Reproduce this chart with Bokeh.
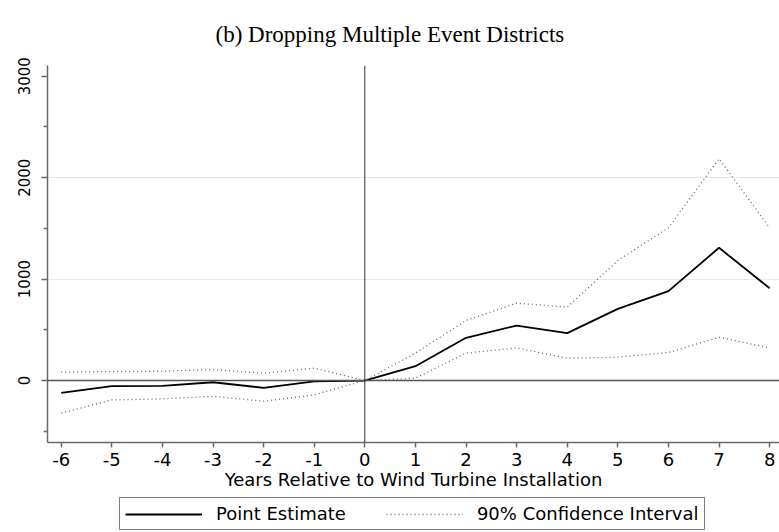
from bokeh.plotting import figure
from bokeh.layouts import column
from bokeh.models import FixedTicker, Legend, LegendItem, Span, Range1d, Title
from bokeh.embed import file_html
from bokeh.resources import INLINE

# ---- data ----
years = [-6, -5, -4, -3, -2, -1, 0, 1, 2, 3, 4, 5, 6, 7, 8]
point_estimate = [-121, -56, -52, -17, -72, -8, 0, 141, 421, 542, 467, 707, 881, 1309, 910]
ci_upper = [82, 89, 92, 108, 72, 122, 0, 270, 592, 763, 723, 1183, 1506, 2186, 1506]
ci_lower = [-322, -191, -181, -155, -204, -141, 0, 23, 270, 322, 220, 230, 276, 427, 322]
y_major_ticks = [0, 1000, 2000, 3000]
y_minor_ticks = [-500, 500, 1500, 2500]
y_grid_ticks = [1000, 2000]
title_text = "(b) Dropping Multiple Event Districts"
x_title = "Years Relative to Wind Turbine Installation"
legend_labels = ["Point Estimate", "90% Confidence Interval"]

SANS = "DejaVu Sans"
PE_STYLE = dict(line_color="black", line_width=1.8)
CI_STYLE = dict(line_color="#666666", line_width=1.3, line_dash="1 3")

fig = figure(width=779, height=496, output_backend="svg", toolbar_location=None,
             x_range=Range1d(-6.271, 8.195), y_range=Range1d(-611, 3106),
             min_border_left=47, min_border_right=0, min_border_top=65,
             min_border_bottom=54)
fig.outline_line_color = None
fig.background_fill_color = "white"
fig.border_fill_color = "white"

# title (serif, centred over the whole graph)
fig.title = Title(text=title_text, align="left", offset=168, standoff=38,
                  text_font="Liberation Serif", text_font_size="23px",
                  text_font_style="normal", text_color="black")

# grid
fig.xgrid.visible = False
fig.ygrid.ticker = FixedTicker(ticks=y_grid_ticks)
fig.ygrid.grid_line_color = "#e2eaee"
fig.ygrid.grid_line_width = 1

# axes
axis_col = "#6a6a6a"
fig.xaxis.ticker = FixedTicker(ticks=years)
fig.xaxis.major_label_overrides = {y: str(y) for y in years}
fig.xaxis.axis_line_color = axis_col
fig.xaxis.axis_line_width = 1.5
fig.xaxis.major_tick_line_color = axis_col
fig.xaxis.major_tick_line_width = 1.5
fig.xaxis.major_tick_out = 5
fig.xaxis.major_tick_in = 0
fig.xaxis.minor_tick_line_color = None
fig.xaxis.major_label_text_font = SANS
fig.xaxis.major_label_text_font_size = "18px"
fig.xaxis.major_label_text_color = "black"
fig.xaxis.major_label_standoff = 5
fig.xaxis.axis_label = x_title
fig.xaxis.axis_label_text_font = SANS
fig.xaxis.axis_label_text_font_size = "18px"
fig.xaxis.axis_label_text_font_style = "normal"
fig.xaxis.axis_label_text_color = "black"
fig.xaxis.axis_label_standoff = 0

fig.yaxis.ticker = FixedTicker(ticks=y_major_ticks, minor_ticks=y_minor_ticks)
fig.yaxis.axis_line_color = axis_col
fig.yaxis.axis_line_width = 1.5
fig.yaxis.major_tick_line_color = axis_col
fig.yaxis.major_tick_line_width = 1.5
fig.yaxis.major_tick_out = 6
fig.yaxis.major_tick_in = 0
fig.yaxis.minor_tick_line_color = axis_col
fig.yaxis.minor_tick_line_width = 1.5
fig.yaxis.minor_tick_out = 4
fig.yaxis.minor_tick_in = 0
fig.yaxis.major_label_orientation = "vertical"
fig.yaxis.major_label_text_font = SANS
fig.yaxis.major_label_text_font_size = "15px"
fig.yaxis.major_label_text_color = "black"
fig.yaxis.major_label_standoff = 11

# reference lines at zero
fig.add_layout(Span(location=0, dimension="width", line_color="#555555", line_width=1.5))
fig.add_layout(Span(location=0, dimension="height", line_color="#333333", line_width=1))

# series
fig.line(years, point_estimate, **PE_STYLE)
fig.line(years, ci_upper, **CI_STYLE)
fig.line(years, ci_lower, **CI_STYLE)

# ---- legend strip below the graph ----
leg_fig = figure(width=779, height=36, output_backend="svg", toolbar_location=None,
                 x_range=Range1d(0, 1), y_range=Range1d(0, 1),
                 x_axis_type=None, y_axis_type=None,
                 min_border_left=0, min_border_right=0, min_border_top=0,
                 min_border_bottom=0)
leg_fig.outline_line_color = None
leg_fig.grid.visible = False
leg_fig.background_fill_color = "white"
leg_fig.border_fill_color = "white"
# single-point keys: nothing is drawn in the strip, they only style the legend samples
k_pe = leg_fig.line(years[:1], point_estimate[:1], **PE_STYLE)
k_ci = leg_fig.line(years[:1], ci_upper[:1], **CI_STYLE)

legend = Legend(items=[LegendItem(label=legend_labels[0], renderers=[k_pe]),
                       LegendItem(label=legend_labels[1], renderers=[k_ci])],
                orientation="horizontal", location=(72, 2))
legend.glyph_width = 77
legend.glyph_height = 20
legend.label_standoff = 14
legend.spacing = 40
legend.padding = 5
legend.margin = 0
legend.border_line_color = "black"
legend.border_line_width = 1
legend.background_fill_color = "white"
legend.background_fill_alpha = 1
legend.label_text_font = SANS
legend.label_text_font_size = "18px"
legend.label_text_color = "black"
leg_fig.add_layout(legend)

p = column(fig, leg_fig, spacing=0)

open("out.html", "w").write(file_html(p, INLINE))
